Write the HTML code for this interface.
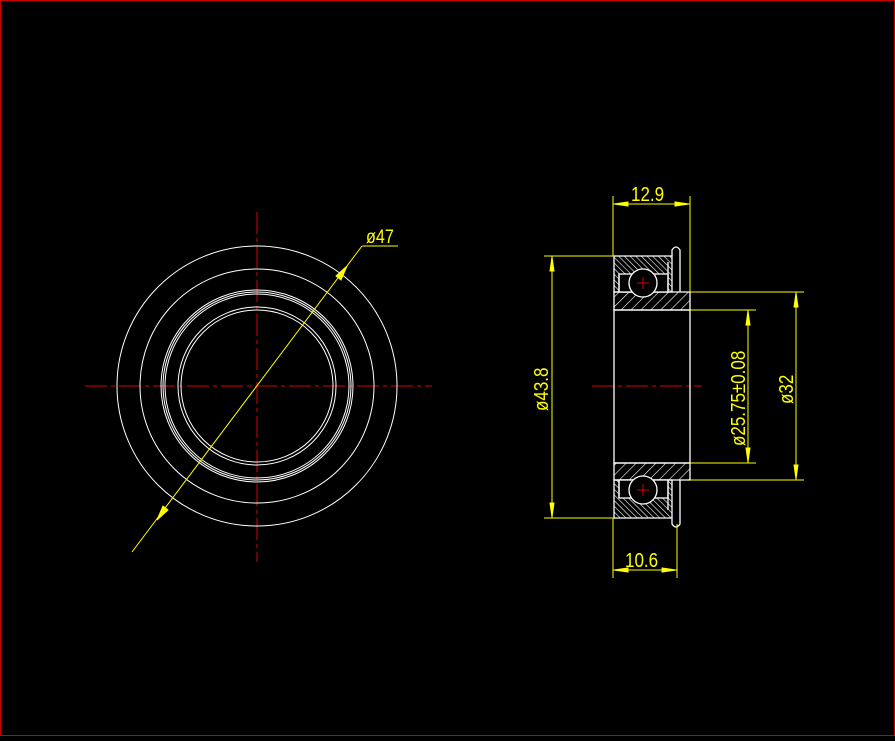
<!DOCTYPE html><html><head><style>body{margin:0;background:#000}</style></head><body>
<svg width="895" height="736" xmlns="http://www.w3.org/2000/svg" font-family="Liberation Sans, sans-serif">
<defs>
<pattern id="h" width="7" height="7" patternUnits="userSpaceOnUse" patternTransform="rotate(45)"><line x1="0" y1="0" x2="0" y2="7" stroke="#fff" stroke-width="1.2"/></pattern>
<pattern id="h2" width="4" height="4" patternUnits="userSpaceOnUse" patternTransform="rotate(-45)"><line x1="0" y1="0" x2="0" y2="4" stroke="#fff" stroke-width="1.2"/></pattern>
</defs>
<rect x="0.5" y="0.5" width="894" height="735" fill="#000" stroke="#c00"/>
<g stroke="#d00" stroke-width="1" stroke-dasharray="22,4,4,4">
<line x1="85" y1="386" x2="432" y2="386"/><line x1="257" y1="212" x2="257" y2="562"/>
<line x1="592" y1="386" x2="702" y2="386"/>
</g>
<g fill="none" stroke="#fff" stroke-width="1">
<circle cx="257" cy="386" r="140"/><circle cx="257" cy="386" r="117"/>
<circle cx="257" cy="386" r="96"/><circle cx="257" cy="386" r="94"/><circle cx="257" cy="386" r="92"/>
<circle cx="257" cy="386" r="79"/><circle cx="257" cy="386" r="76"/>
</g>
<g stroke="#ff0" fill="#ff0" stroke-width="1">
<line x1="132" y1="552" x2="362" y2="246"/><line x1="362" y1="246" x2="398" y2="246"/>
<polygon points="347,266 341,280 336,276"/><polygon points="157,520 163,506 168,510"/>
</g>
<text transform="translate(366,243) scale(0.85,1)" fill="#ff0" font-size="19">ø47</text>
<!-- right view -->
<g stroke="#fff" stroke-width="1.3">
<path d="M614,256 H672 V292 H614 Z" fill="url(#h2)"/>
<path d="M614,480 H672 V518 H614 Z" fill="url(#h2)"/>
<path d="M614,292 H690 V310 H614 Z" fill="url(#h)"/>
<path d="M614,463 H690 V480 H614 Z" fill="url(#h)"/>
<rect x="614" y="310" width="76" height="153" fill="none"/>
<path d="M672,256 V250 Q676,244 680,250 V292" fill="none"/>
<path d="M672,518 V524 Q676,530 680,524 V480" fill="none"/>
<rect x="619" y="274" width="49" height="18" fill="#000"/>
<rect x="619" y="480" width="49" height="18" fill="#000"/>
<line x1="668" y1="262" x2="668" y2="292"/><line x1="668" y1="480" x2="668" y2="510"/>
<line x1="619" y1="274" x2="619" y2="292"/><line x1="619" y1="480" x2="619" y2="498"/>
</g>
<circle cx="643" cy="283" r="14" fill="#000" stroke="#fff" stroke-width="1.3"/><circle cx="643" cy="490" r="14" fill="#000" stroke="#fff" stroke-width="1.3"/>
<g stroke="#d00"><line x1="637" y1="283" x2="649" y2="283"/><line x1="643" y1="277" x2="643" y2="289"/><line x1="637" y1="490" x2="649" y2="490"/><line x1="643" y1="484" x2="643" y2="496"/></g>
<g stroke="#ff0" fill="#ff0" stroke-width="1">
<line x1="613" y1="196" x2="613" y2="256"/><line x1="690" y1="196" x2="690" y2="292"/>
<line x1="613" y1="204" x2="690" y2="204"/>
<polygon points="614,204 628,202 628,206"/><polygon points="689,204 675,202 675,206"/>
<line x1="613" y1="518" x2="613" y2="578"/><line x1="677" y1="524" x2="677" y2="578"/>
<line x1="613" y1="570" x2="677" y2="570"/>
<polygon points="614,570 628,568 628,572"/><polygon points="676,570 662,568 662,572"/>
<line x1="544" y1="256" x2="614" y2="256"/><line x1="544" y1="518" x2="614" y2="518"/>
<line x1="552" y1="256" x2="552" y2="518"/>
<polygon points="552,257 550,271 554,271"/><polygon points="552,517 550,503 554,503"/>
<line x1="690" y1="310" x2="756" y2="310"/><line x1="690" y1="463" x2="756" y2="463"/>
<line x1="748" y1="310" x2="748" y2="463"/>
<polygon points="748,311 746,325 750,325"/><polygon points="748,462 746,448 750,448"/>
<line x1="690" y1="292" x2="804" y2="292"/><line x1="690" y1="480" x2="804" y2="480"/>
<line x1="796" y1="292" x2="796" y2="480"/>
<polygon points="796,293 794,307 798,307"/><polygon points="796,479 794,465 798,465"/>
</g>
<g fill="#ff0" font-size="20">
<text transform="translate(631,201) scale(0.85,1)">12.9</text>
<text transform="translate(625,567) scale(0.85,1)">10.6</text>
<text transform="translate(548,411) rotate(-90) scale(0.85,1)">ø43.8</text>
<text transform="translate(745,446) rotate(-90) scale(0.85,1)">ø25.75±0.08</text>
<text transform="translate(793,404) rotate(-90) scale(0.85,1)">ø32</text>
</g>
</svg></body></html>
